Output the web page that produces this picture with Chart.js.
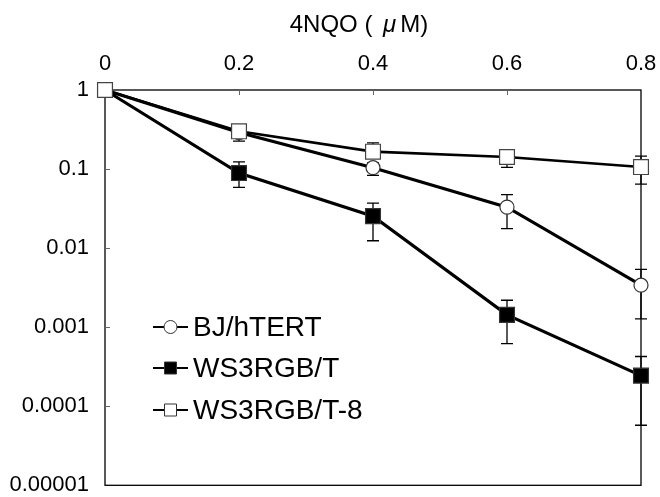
<!DOCTYPE html>
<html>
<head>
<meta charset="utf-8">
<script src="https://cdn.jsdelivr.net/npm/chart.js@4.4.0/dist/chart.umd.min.js"></script>
<style>
  body { margin: 0; background: #fff; }
  #wrap { width: 660px; height: 497px; }
</style>
</head>
<body>
<div id="wrap"><canvas id="survChart" width="660" height="497"></canvas></div>
<script>
// dose of 4NQO (uM)
var doses = [0, 0.2, 0.4, 0.6, 0.8];
var xTickLabels = ['0', '0.2', '0.4', '0.6', '0.8'];
var yTicks = [0.00001, 0.0001, 0.001, 0.01, 0.1, 1];
var yTickLabels = ['0.00001', '0.0001', '0.001', '0.01', '0.1', '1'];

var seriesNames = ['BJ/hTERT', 'WS3RGB/T', 'WS3RGB/T-8'];

// surviving fraction + error bar ends
var bjVals = [1, 0.29, 0.104, 0.033, 0.0034];
var bjLow  = [1, 0.26, 0.083, 0.0176, 0.00127];
var bjHigh = [1, 0.32, 0.12, 0.0475, 0.0054];

var ws3Vals = [1, 0.089, 0.0254, 0.00143, 0.000244];
var ws3Low  = [1, 0.0586, 0.0124, 0.00062, 0.0000575];
var ws3High = [1, 0.123, 0.037, 0.00219, 0.000426];

var t8Vals = [1, 0.30, 0.166, 0.142, 0.106];
var t8Low  = [1, 0.225, 0.15, 0.105, 0.0645];
var t8High = [1, 0.33, 0.215, 0.174, 0.146];

var FONT = "'Liberation Sans', Arial, sans-serif";

function pts(vals) {
    return doses.map(function (d, i) { return { x: d, y: vals[i] }; });
}

// error bars, box and inner tick marks
var errorBars = {
    id: 'errorBars',
    beforeDatasetsDraw: function (chart) {
        var ctx = chart.ctx, xs = chart.scales.x, ys = chart.scales.y, a = chart.chartArea;
        ctx.save();
        ctx.strokeStyle = '#000';
        ctx.lineWidth = 1.3;
        ctx.strokeRect(a.left, a.top, a.right - a.left, a.bottom - a.top);

        ctx.strokeStyle = '#666';
        ctx.lineWidth = 1;
        ctx.beginPath();
        doses.slice(1, -1).forEach(function (d) {
            var px = Math.round(xs.getPixelForValue(d)) + 0.5;
            ctx.moveTo(px, a.top); ctx.lineTo(px, a.top + 5);
        });
        yTicks.slice(1, -1).forEach(function (v) {
            var py = Math.round(ys.getPixelForValue(v)) + 0.5;
            ctx.moveTo(a.left, py); ctx.lineTo(a.left + 5, py);
        });
        ctx.stroke();

        ctx.strokeStyle = '#000';
        ctx.lineWidth = 1.3;
        chart.data.datasets.forEach(function (ds) {
            ds.errLow.forEach(function (lo, i) {
                var hi = ds.errHigh[i];
                if (lo === hi) return;
                var px = xs.getPixelForValue(doses[i]);
                var y1 = ys.getPixelForValue(lo), y2 = ys.getPixelForValue(hi);
                ctx.beginPath();
                ctx.moveTo(px, y1); ctx.lineTo(px, y2);
                ctx.moveTo(px - 6, y1); ctx.lineTo(px + 6, y1);
                ctx.moveTo(px - 6, y2); ctx.lineTo(px + 6, y2);
                ctx.stroke();
            });
        });
        ctx.restore();
    },
    afterDraw: function (chart) {
        var ctx = chart.ctx;
        ctx.save();
        // axis title on top
        ctx.fillStyle = '#000';
        ctx.textBaseline = 'middle';
        var parts = [['4NQO ( ', 'normal', 0], ['\u03bc', 'italic', 4], ['M)', 'normal', 4]];
        var total = 0;
        parts.forEach(function (p) {
            ctx.font = p[1] + ' 24px ' + FONT;
            total += p[2] + ctx.measureText(p[0]).width;
        });
        var tx = 359 - total / 2;
        parts.forEach(function (p) {
            ctx.font = p[1] + ' 24px ' + FONT;
            tx += p[2];
            ctx.fillText(p[0], tx, 25);
            tx += ctx.measureText(p[0]).width;
        });

        // legend inside the plot
        var rows = [327, 368, 410];
        chart.data.datasets.forEach(function (ds, i) {
            var y = rows[i];
            ctx.strokeStyle = '#000';
            ctx.lineWidth = 1.8;
            ctx.beginPath();
            ctx.moveTo(153, y); ctx.lineTo(188, y);
            ctx.stroke();
            ctx.fillStyle = ds.pointBackgroundColor;
            ctx.strokeStyle = '#333';
            ctx.lineWidth = 1;
            ctx.beginPath();
            if (ds.pointStyle === 'circle') {
                ctx.arc(170.5, y, 6.5, 0, Math.PI * 2);
            } else {
                ctx.rect(164.5, y - 6, 12, 12);
            }
            ctx.fill();
            ctx.stroke();
            ctx.fillStyle = '#000';
            ctx.font = '28px ' + FONT;
            ctx.textAlign = 'left';
            ctx.fillText(ds.label, 193, y + 1);
        });
        ctx.restore();
    }
};

new Chart(document.getElementById('survChart'), {
    type: 'line',
    data: {
        datasets: [{
            label: seriesNames[0],
            data: pts(bjVals),
            errLow: bjLow, errHigh: bjHigh,
            borderColor: '#000', borderWidth: 3.2,
            pointStyle: 'circle', pointRadius: 7,
            pointBackgroundColor: '#fff', pointBorderColor: '#333', pointBorderWidth: 1.2,
            clip: false, order: 1
        }, {
            label: seriesNames[1],
            data: pts(ws3Vals),
            errLow: ws3Low, errHigh: ws3High,
            borderColor: '#000', borderWidth: 3.2,
            pointStyle: 'rect', pointRadius: 10.5,
            pointBackgroundColor: '#000', pointBorderColor: '#333', pointBorderWidth: 1.2,
            clip: false, order: 2
        }, {
            label: seriesNames[2],
            data: pts(t8Vals),
            errLow: t8Low, errHigh: t8High,
            borderColor: '#000', borderWidth: 2.6,
            pointStyle: 'rect', pointRadius: 10.5,
            pointBackgroundColor: '#fff', pointBorderColor: '#444', pointBorderWidth: 1.2,
            clip: false, order: 0
        }]
    },
    options: {
        responsive: false,
        animation: false,
        devicePixelRatio: 1,
        layout: { padding: { left: 0, right: 19, top: 0, bottom: 8 } },
        plugins: {
            legend: { display: false },
            tooltip: { enabled: false }
        },
        scales: {
            x: {
                type: 'linear',
                position: 'top',
                min: 0, max: 0.8,
                afterBuildTicks: function (scale) {
                    scale.ticks = doses.map(function (d) { return { value: d }; });
                },
                afterFit: function (scale) {
                    scale.height = 90;
                    scale.paddingLeft = 0; scale.paddingRight = 0;
                },
                grid: { display: false, drawTicks: false },
                border: { display: false },
                ticks: {
                    padding: 13,
                    color: '#000',
                    font: { family: FONT, size: 22 },
                    maxRotation: 0,
                    callback: function (v, i) { return xTickLabels[i]; }
                }
            },
            y: {
                type: 'logarithmic',
                min: 0.00001, max: 1,
                afterBuildTicks: function (scale) {
                    scale.ticks = yTicks.map(function (v) { return { value: v }; });
                },
                afterFit: function (scale) {
                    scale.width = 105;
                    scale.paddingTop = 0; scale.paddingBottom = 0;
                },
                grid: { display: false, drawTicks: false },
                border: { display: false },
                ticks: {
                    padding: 16,
                    color: '#000',
                    font: { family: FONT, size: 22 },
                    callback: function (v, i) { return yTickLabels[i]; }
                }
            }
        }
    },
    plugins: [errorBars]
});
</script>
</body>
</html>
